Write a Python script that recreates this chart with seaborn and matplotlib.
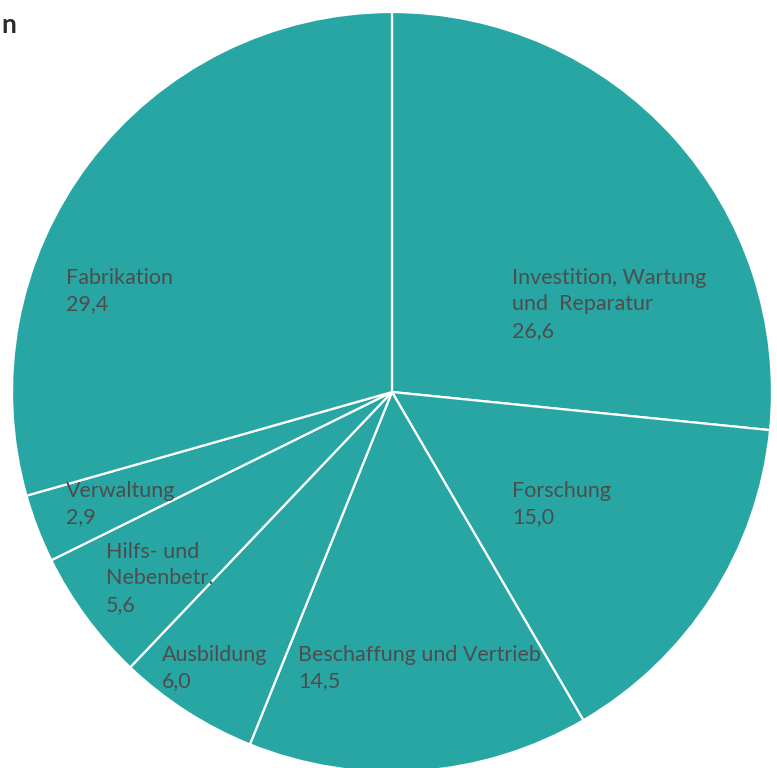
import matplotlib
matplotlib.use("Agg")
import matplotlib.pyplot as plt
import seaborn as sns

# Data (Anteile in Prozent), clockwise from the top
labels = ["Investition, Wartung\nund  Reparatur", "Forschung", "Beschaffung und Vertrieb",
          "Ausbildung", "Hilfs- und\nNebenbetr.", "Verwaltung", "Fabrikation"]
values = [26.6, 15.0, 14.5, 6.0, 5.6, 2.9, 29.4]
value_text = ["26,6", "15,0", "14,5", "6,0", "5,6", "2,9", "29,4"]

# Label anchor points in pixels (left / top of text block)
label_px = [(512, 268), (512, 481), (298, 645), (162, 645), (106, 542), (66, 481), (66, 268)]

sns.set_theme(style="white")
plt.rcParams['font.family'] = ['Lato', 'DejaVu Sans']

teal = "#28a6a4"
text_color = "#4d4d4d"

W, H = 777, 768
cx, cy, r = 392, 392, 380

fig = plt.figure(figsize=(W / 100, H / 100), dpi=100)
ax = fig.add_axes([(cx - r) / W, (H - cy - r) / H, 2 * r / W, 2 * r / H])

ax.pie(values, startangle=90, counterclock=False, colors=[teal] * len(values),
       wedgeprops=dict(edgecolor="white", linewidth=1.6))
ax.set_xlim(-1, 1)
ax.set_ylim(-1, 1)
ax.axis("off")

for lab, val, (px, py) in zip(labels, value_text, label_px):
    x = (px - cx) / r
    y = (cy - py) / r
    ax.text(x, y, lab + "\n" + val, ha="left", va="top", fontsize=15.5,
            color=text_color, linespacing=1.4)

# cropped title remnant
fig.text(1 / W, 1 - 25 / H, "n", fontsize=19, fontweight="bold", color="#2b2b2b",
         ha="left", va="center")

fig.savefig("out.png", dpi=100, facecolor="white")
